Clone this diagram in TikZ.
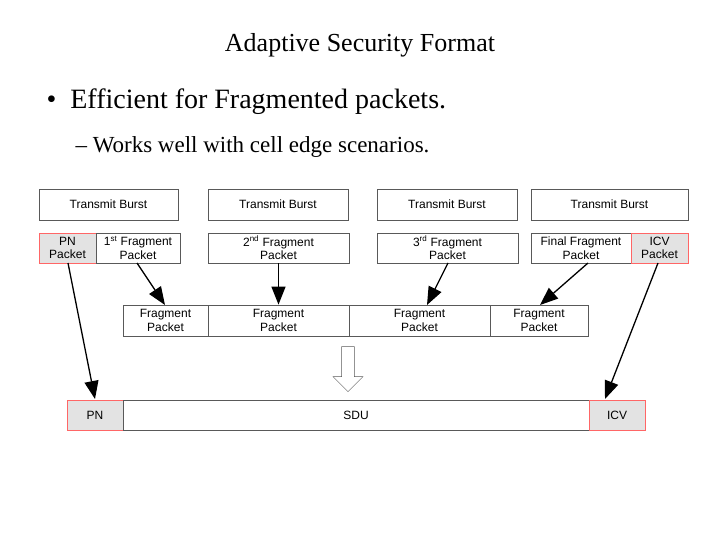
\documentclass[tikz,border=0pt]{standalone}
\usepackage{fontspec}
\setmainfont{Liberation Serif}
\newfontfamily\arialf{Liberation Sans}
\usetikzlibrary{arrows.meta,shapes.arrows}
\begin{document}
\begin{tikzpicture}[x=1pt,y=-1pt,
 bx/.style={draw=gray!70!black,line width=0.8pt,fill=white,align=center,font=\arialf\fontsize{12}{13.5}\selectfont,inner sep=0pt},
 rb/.style={bx,draw=red!60,fill=gray!22},
 ar/.style={-{Triangle[length=18pt,width=14pt]},line width=1.3pt}]
\useasboundingbox (0,0) rectangle (720,540);
\node[font=\fontsize{26}{30}\selectfont] (title) at (360,45) {Adaptive Security Format};
\node[anchor=west,font=\fontsize{28}{32}\selectfont] (b1) at (43,102) {\textbullet\ \ Efficient for Fragmented packets.};
\node[anchor=west,font=\fontsize{23}{27}\selectfont] (b2) at (72,147) {-- Works well with cell edge scenarios.};
\def\bxr#1#2#3#4#5#6#7{\node[#1,minimum width=#4-#2,minimum height=#5-#3] (#6) at ({(#2+#4)/2},{(#3+#5)/2}) {#7};}
\bxr{bx}{39}{189}{178}{220}{t1}{Transmit Burst}
\bxr{bx}{208}{189}{348}{220}{t2}{Transmit Burst}
\bxr{bx}{377}{189}{517}{220}{t3}{Transmit Burst}
\bxr{bx}{531}{189}{688}{220}{t4}{Transmit Burst}
\bxr{rb}{39}{233}{96}{263}{pn}{PN\\Packet}
\bxr{bx}{96}{233}{180}{263}{f1}{1\textsuperscript{st} Fragment\\Packet}
\bxr{bx}{208}{233}{349}{263}{f2}{2\textsuperscript{nd} Fragment\\Packet}
\bxr{bx}{377}{233}{518}{263}{f3}{3\textsuperscript{rd} Fragment\\Packet}
\bxr{bx}{531}{233}{631}{263}{f4}{Final Fragment\\Packet}
\bxr{rb}{631}{233}{688}{263}{icv}{ICV\\Packet}
\bxr{bx}{123}{305}{208}{336}{g1}{Fragment\\Packet}
\bxr{bx}{208}{305}{349}{336}{g2}{Fragment\\Packet}
\bxr{bx}{349}{305}{490}{336}{g3}{Fragment\\Packet}
\bxr{bx}{490}{305}{588}{336}{g4}{Fragment\\Packet}
\bxr{rb}{67}{400}{123}{430}{pn2}{PN}
\bxr{bx}{123}{400}{589}{430}{sdu}{SDU}
\bxr{rb}{589}{400}{645}{430}{icv2}{ICV}
\node[single arrow,draw=gray!70!black,fill=white,shape border rotate=270,minimum height=45pt,minimum width=30pt,single arrow head extend=3pt,inner sep=2pt] (ha) at (348,366) {};
\coordinate (p0) at (68,263); \coordinate (p1) at (95,399);
\coordinate (a0) at (137,263); \coordinate (a1) at (165,305);
\coordinate (c0) at (448,263); \coordinate (c1) at (427,305);
\coordinate (d0) at (588,263); \coordinate (d1) at (540,305);
\coordinate (e0) at (658,263); \coordinate (e1) at (605,399);
\draw[ar] (p0) -- (p1);
\draw[ar] (a0) -- (a1);
\draw[ar] (f2.south) -- (g2.north);
\draw[ar] (c0) -- (c1);
\draw[ar] (d0) -- (d1);
\draw[ar] (e0) -- (e1);
\end{tikzpicture}
\end{document}
